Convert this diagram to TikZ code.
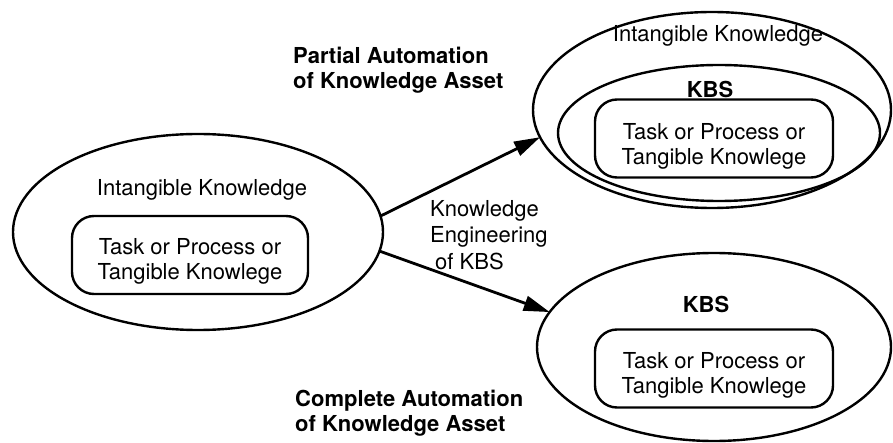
\documentclass[tikz,border=0pt]{standalone}
\usepackage{fontspec}
\setmainfont{TeX Gyre Heros}
\usetikzlibrary{arrows.meta,shapes.geometric}
\begin{document}
\begin{tikzpicture}[x=1pt,y=-1pt,
  ell/.style={draw, ellipse, line width=2.4pt, inner sep=0pt, outer sep=0pt},
  rbox/.style={draw, rounded corners=22pt, line width=2.4pt, minimum width=236pt,
    minimum height=78pt, inner sep=0pt, align=center, font=\fontsize{22}{25}\selectfont},
  txt/.style={font=\fontsize{22}{25}\selectfont, inner sep=0pt},
  bold/.style={font=\fontsize{22}{25}\selectfont\bfseries, inner sep=0pt, align=left},
  arr/.style={line width=2.8pt, -{Triangle[length=26pt,width=15pt]}}]
\path[use as bounding box] (0,0) rectangle (893,443);

% left
\node[ell, minimum width=370pt, minimum height=196pt] (L) at (198,232) {};
\node[txt] (Lik) at (202,190) {Intangible Knowledge};
\node[rbox] (Lt) at (190,255) {\rule{0pt}{29pt}Task or Process or\\Tangible Knowlege};

% top right
\node[ell, minimum width=358pt, minimum height=196pt] (PO) at (712,110) {};
\node[ell, minimum width=322pt, minimum height=136pt] (PI) at (719,133) {};
\node[txt] (Pik) at (718,36) {Intangible Knowledge};
\node[txt, font=\fontsize{22}{25}\selectfont\bfseries] (Pkbs) at (710,89.5) {KBS};
\node[rbox, minimum width=238pt] (Pt) at (714,138.5) {\rule{0pt}{31pt}Task or Process or\\Tangible Knowlege};

% bottom right
\node[ell, minimum width=354pt, minimum height=188pt] (C) at (714,347) {};
\node[txt, font=\fontsize{22}{25}\selectfont\bfseries] (Ckbs) at (706,304.5) {KBS};
\node[rbox, minimum width=238pt] (Ct) at (714,368.5) {\rule{0pt}{30pt}Task or Process or\\Tangible Knowlege};

% labels
\node[bold, anchor=north west] (pa) at (293,47) {Partial Automation\\of Knowledge Asset};
\node[bold, anchor=north west] (ca) at (295,390) {Complete Automation\\of Knowledge Asset};
\node[txt, align=left, anchor=north west, font=\fontsize{22}{26.5}\selectfont] (ke) at (430,200)
  {Knowledge\\Engineering\\\hspace*{5pt}of KBS};

% arrows
\draw[arr] (L.5.3) -- (PO.189.7);
\draw[arr] (L.-6.5) -- (C.168.1);
\end{tikzpicture}
\end{document}
